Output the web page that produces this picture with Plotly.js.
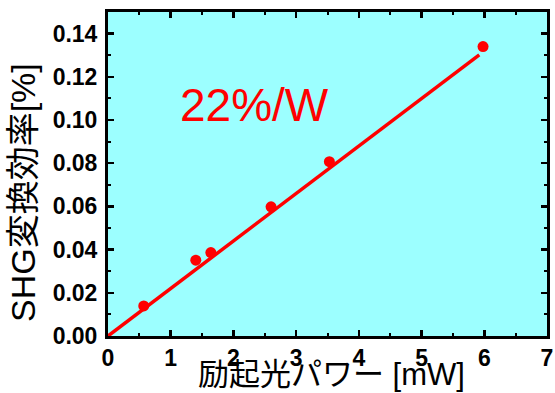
<!DOCTYPE html>
<html>
<head>
<meta charset="utf-8">
<script src="https://cdn.plot.ly/plotly-3.0.1.min.js"></script>
<style>html,body{margin:0;padding:0;background:#fff;}#chart{width:555px;height:393px;}</style>
</head>
<body>
<div id="chart"></div>
<script>
// Measured data points
const powerMW = [0.57, 1.40, 1.64, 2.60, 3.53, 5.98];
const efficiencyPct = [0.0139, 0.0351, 0.0386, 0.0598, 0.0807, 0.134];
// Linear fit line endpoints (22 %/W)
const fitX = [0, 5.92];
const fitY = [0, 0.1302];
const xTickVals = [0, 1, 2, 3, 4, 5, 6, 7];
const yTickVals = [0, 0.02, 0.04, 0.06, 0.08, 0.10, 0.12, 0.14];
const slopeLabel = '22%/W';
const xTitle = '励起光パワー [mW]';
const yTitle = 'SHG変換効率[%]';

const red = '#ff0000';
const titleFamily = 'Liberation Sans, Noto Sans CJK JP, sans-serif';
const traces = [
  {x: fitX, y: fitY, mode: 'lines', line: {color: red, width: 3.5}, hoverinfo: 'skip'},
  {x: powerMW, y: efficiencyPct, mode: 'markers', marker: {color: red, size: 11}}
];
const axisCommon = {
  showline: true, linecolor: '#000', linewidth: 3, mirror: 'allticks',
  ticks: 'inside', ticklen: 6, tickwidth: 2.5, tickcolor: '#000',
  showgrid: false, zeroline: false,
  tickfont: {family: 'Liberation Sans, Arial, sans-serif', size: 23, color: '#000', weight: 'bold'}
};
const layout = {
  width: 555, height: 393,
  margin: {l: 108, r: 8, t: 12, b: 57},
  paper_bgcolor: '#ffffff', plot_bgcolor: '#9cffff',
  showlegend: false,
  xaxis: Object.assign({}, axisCommon, {
    range: [0, 7], tickvals: xTickVals, ticklabelstandoff: -1,
    minor: {dtick: 0.5, ticks: 'inside', ticklen: 3, tickwidth: 2, tickcolor: '#000'}
  }),
  yaxis: Object.assign({}, axisCommon, {
    range: [0, 0.15], tickvals: yTickVals, tickformat: '.2f', ticklabelstandoff: 3,
    minor: {dtick: 0.01, ticks: 'inside', ticklen: 3, tickwidth: 2, tickcolor: '#000'}
  }),
  annotations: [
    {
      x: 2.34, y: 0.107, xref: 'x', yref: 'y', text: slopeLabel, showarrow: false,
      font: {family: 'Liberation Sans, Arial, sans-serif', size: 46, color: red}
    },
    {
      x: 0.5, y: 0, xref: 'paper', yref: 'paper', text: xTitle, showarrow: false,
      xanchor: 'center', yanchor: 'bottom', xshift: 4, yshift: -57, borderpad: 0,
      font: {family: titleFamily, size: 31, color: '#000'}
    },
    {
      x: 0, y: 0.5, xref: 'paper', yref: 'paper', text: yTitle, showarrow: false,
      textangle: -90, xanchor: 'center', yanchor: 'middle', xshift: -85, yshift: -19,
      font: {family: titleFamily, size: 34, color: '#000'}
    }
  ]
};
Plotly.newPlot('chart', traces, layout, {displayModeBar: false, staticPlot: true});
</script>
</body>
</html>
